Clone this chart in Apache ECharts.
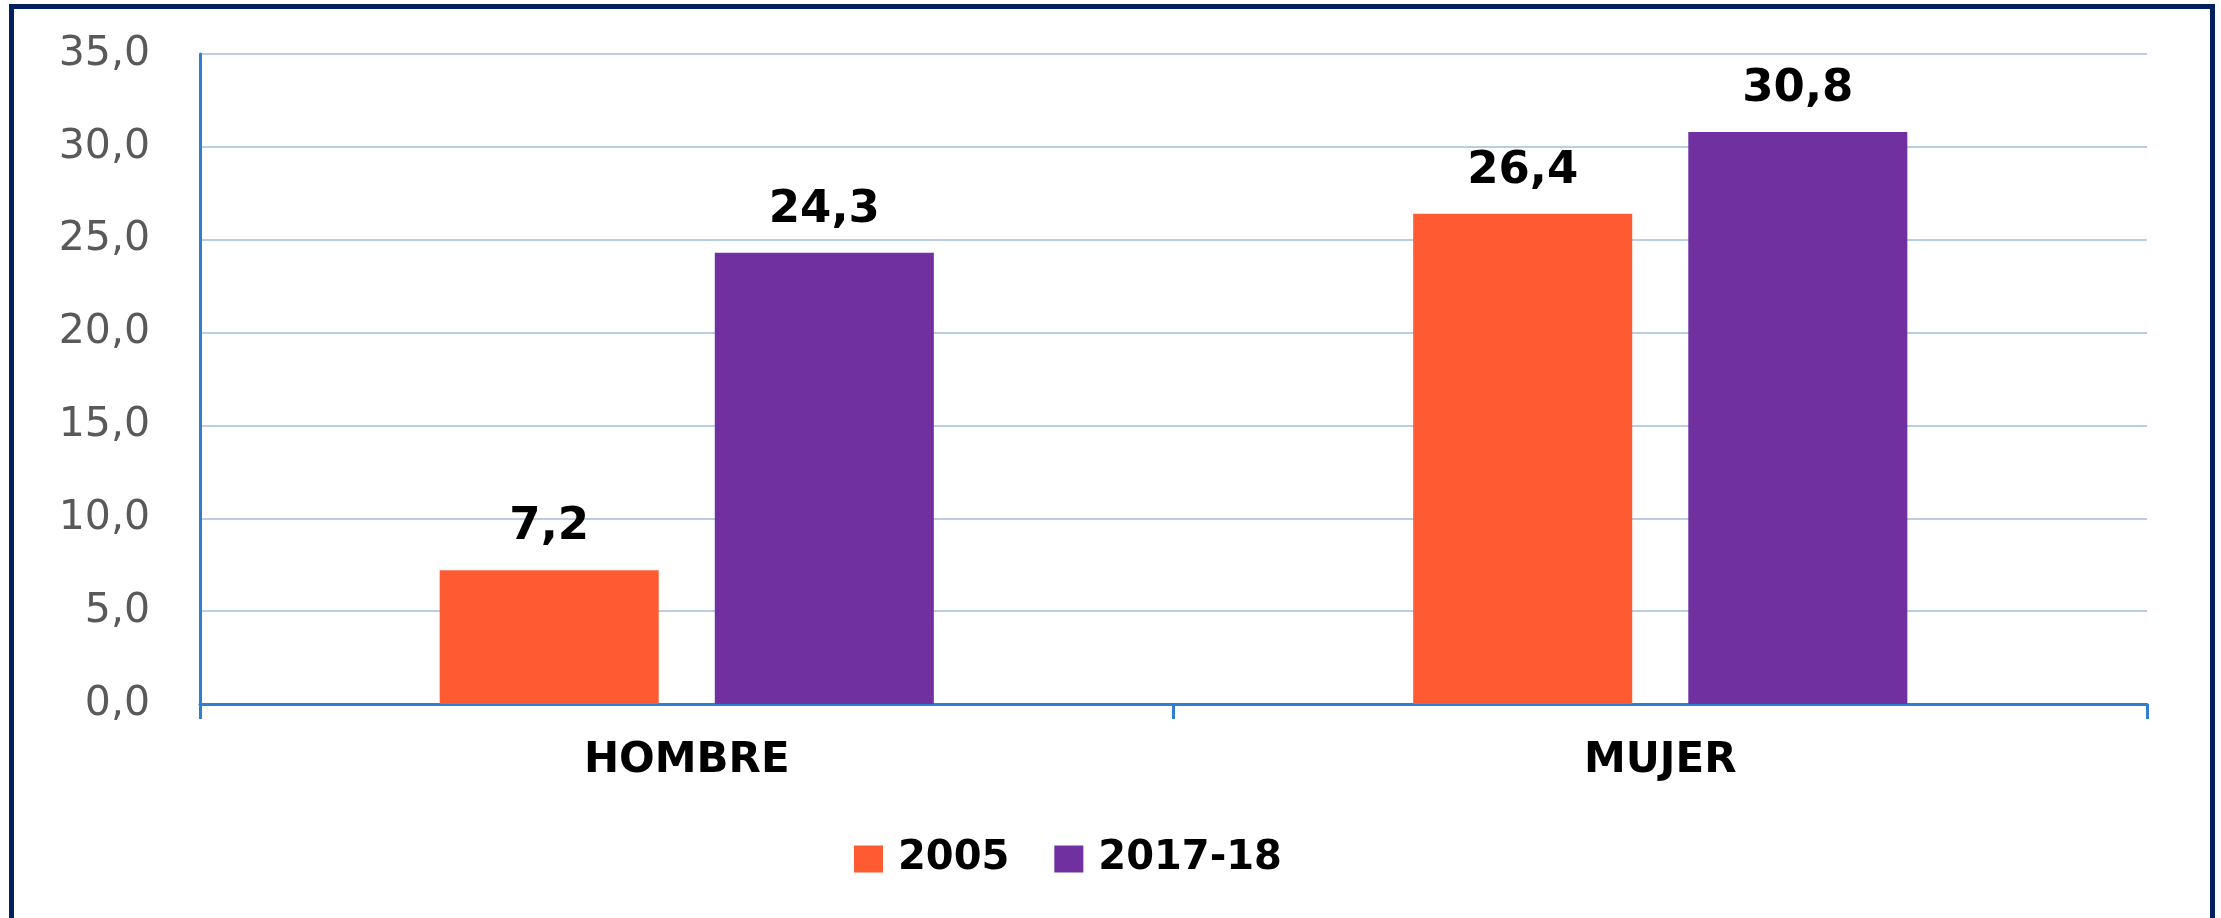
<!DOCTYPE html>
<html>
<head>
<meta charset="utf-8">
<script src="https://cdn.jsdelivr.net/npm/echarts@6/dist/echarts.min.js"></script>
<style>
    html, body { margin: 0; padding: 0; background: #ffffff; overflow: hidden; }
    #chart { position: absolute; left: 0; top: 0; width: 2221px; height: 918px; }
    #frame {
        position: absolute; left: 9px; top: 4px; width: 2196px; height: 1000px;
        border: 5px solid #002060; border-bottom: none; pointer-events: none;
    }
</style>
</head>
<body>
<div id="chart"></div>
<div id="frame"></div>
<script>
    // categorias y valores (%)
    const categories = ['HOMBRE', 'MUJER'];
    const seriesNames = ['2005', '2017-18'];
    const values2005 = [7.2, 26.4];
    const values2017 = [24.3, 30.8];
    const colors = ['#ff5b33', '#7030a0'];

    const chart = echarts.init(document.getElementById('chart'));

    const fmt = (v) => v.toFixed(1).replace('.', ',');

    const labelStyle = {
        show: true,
        position: 'top',
        distance: 20,
        color: '#000000',
        fontFamily: 'DejaVu Sans',
        fontWeight: 'bold',
        fontSize: 45,
        formatter(p) { return fmt(p.value); }
    };

    chart.setOption({
        backgroundColor: '#ffffff',
        animation: false,
        grid: {
            left: 200,
            right: 74,
            top: 54,
            bottom: 214
        },
        legend: {
            data: seriesNames,
            left: 849,
            top: 834,
            itemWidth: 29,
            itemHeight: 27,
            itemGap: 45,
            icon: 'rect',
            textStyle: {
                color: '#000000',
                fontFamily: 'DejaVu Sans',
                fontWeight: 'bold',
                fontSize: 40,
                padding: [0, 0, 0, 10]
            }
        },
        xAxis: [{
            type: 'category',
            data: categories,
            axisLine: {
                lineStyle: { color: '#2e7fd2', width: 3 }
            },
            axisTick: {
                show: true,
                length: 15,
                lineStyle: { color: '#2e7fd2', width: 3 }
            },
            axisLabel: {
                margin: 36,
                color: '#000000',
                fontFamily: 'DejaVu Sans',
                fontWeight: 'bold',
                fontSize: 42
            },
            splitLine: { show: false }
        }],
        yAxis: [{
            type: 'value',
            min: 0,
            max: 35,
            interval: 5,
            axisLine: {
                show: true,
                lineStyle: { color: '#2e7fd2', width: 3 }
            },
            axisTick: { show: false },
            axisLabel: {
                margin: 50,
                color: '#595959',
                fontFamily: 'DejaVu Sans',
                fontSize: 41,
                formatter(v) { return fmt(v); }
            },
            splitLine: {
                lineStyle: { color: '#b9cde5', width: 2 }
            }
        }],
        series: [{
            name: seriesNames[0],
            type: 'bar',
            barWidth: '22.5%',
            barGap: '25.6%',
            itemStyle: { color: colors[0] },
            label: labelStyle,
            data: values2005
        }, {
            name: seriesNames[1],
            type: 'bar',
            barWidth: '22.5%',
            itemStyle: { color: colors[1] },
            label: labelStyle,
            data: values2017
        }]
    });
</script>
</body>
</html>
